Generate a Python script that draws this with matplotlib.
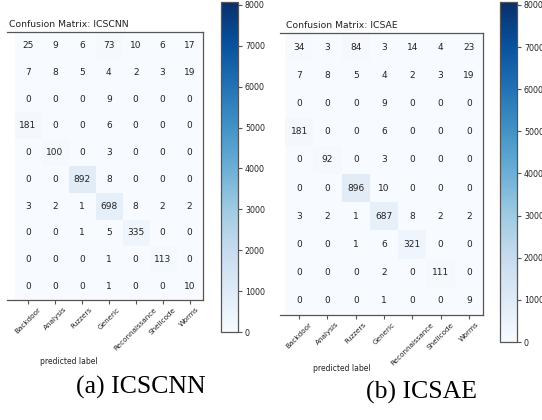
import numpy as np
import matplotlib.pyplot as plt
import matplotlib.transforms as mtransforms

labels = ['Backdoor', 'Analysis', 'Fuzzers', 'Generic',
          'Reconnaissance', 'Shellcode', 'Worms']

cm_cnn = np.array([
    [25, 9, 6, 73, 10, 6, 17],
    [7, 8, 5, 4, 2, 3, 19],
    [0, 0, 0, 9, 0, 0, 0],
    [181, 0, 0, 6, 0, 0, 0],
    [0, 100, 0, 3, 0, 0, 0],
    [0, 0, 892, 8, 0, 0, 0],
    [3, 2, 1, 698, 8, 2, 2],
    [0, 0, 1, 5, 335, 0, 0],
    [0, 0, 0, 1, 0, 113, 0],
    [0, 0, 0, 1, 0, 0, 10],
])

cm_ae = np.array([
    [34, 3, 84, 3, 14, 4, 23],
    [7, 8, 5, 4, 2, 3, 19],
    [0, 0, 0, 9, 0, 0, 0],
    [181, 0, 0, 6, 0, 0, 0],
    [0, 92, 0, 3, 0, 0, 0],
    [0, 0, 896, 10, 0, 0, 0],
    [3, 2, 1, 687, 8, 2, 2],
    [0, 0, 1, 6, 321, 0, 0],
    [0, 0, 0, 2, 0, 111, 0],
    [0, 0, 0, 1, 0, 0, 9],
])

vmax = 8070          # largest count in the full matrix
n_hidden = 3         # classes to the left of Backdoor, outside the figure
cbar_ticks = np.arange(0, 8001, 1000)

fs = 6.5
txt_col = '#222222'
edge_col = '#555555'

fig = plt.figure(figsize=(5.42, 4.2), dpi=100)


def draw(ax_rect, cax_rect, cm, title, x_left, label_y, caption, cap_xy):
    ax = fig.add_axes(ax_rect)
    cax = fig.add_axes(cax_rect)
    im = ax.imshow(cm, cmap='Blues', vmin=0, vmax=vmax,
                   aspect='auto', interpolation='nearest')
    ncol = cm.shape[1]
    ax.set_xlim(x_left, ncol - 0.5)
    ax.set_ylim(cm.shape[0] - 0.5, -0.5)

    for i in range(cm.shape[0]):
        for j in range(ncol):
            ax.text(j, i, str(cm[i, j]), ha='center', va='center',
                    fontsize=fs, color=txt_col)

    ax.set_xticks(range(ncol))
    ax.set_xticklabels(labels, rotation=45, ha='center', fontsize=5.2,
                       color=txt_col)
    ax.set_yticks([])
    ax.spines['left'].set_visible(False)
    for s in ['top', 'right', 'bottom']:
        ax.spines[s].set_color(edge_col)
        ax.spines[s].set_linewidth(0.9)
    ax.tick_params(axis='x', length=3, width=0.8, color=edge_col, pad=1.5)

    # title and x label sit over the middle of the full class range
    mid = (-n_hidden - 0.5 + ncol - 0.5) / 2
    tr = mtransforms.blended_transform_factory(ax.transData, ax.transAxes)
    ax.text(mid, 1.012, title, transform=tr, ha='center', va='bottom',
            fontsize=6.7, color=txt_col)
    ax.text(mid, label_y, 'predicted label', transform=tr, ha='center',
            va='center', fontsize=5.5, color=txt_col)

    cb = fig.colorbar(im, cax=cax, ticks=cbar_ticks)
    cb.outline.set_edgecolor(edge_col)
    cb.outline.set_linewidth(0.9)
    cb.ax.tick_params(labelsize=5.7, length=3, width=0.8,
                      color=edge_col, labelcolor=txt_col, pad=2)

    fig.text(cap_xy[0], cap_xy[1], caption, ha='center', va='center',
             fontsize=18.5, family='Liberation Serif')


draw([7 / 542, 120 / 420, 196 / 542, 268 / 420],
     [221 / 542, 88 / 420, 17 / 542, 330 / 420],
     cm_cnn, 'Confusion Matrix: ICSCNN', -0.78, -0.23,
     '(a) ICSCNN', (141 / 542, 33 / 420))

draw([280 / 542, 105 / 420, 203 / 542, 282 / 420],
     [500 / 542, 78 / 420, 17 / 542, 340 / 420],
     cm_ae, 'Confusion Matrix: ICSAE', -0.68, -0.19,
     '(b) ICSAE', (422 / 542, 28 / 420))

fig.savefig('out.png', dpi=100)
